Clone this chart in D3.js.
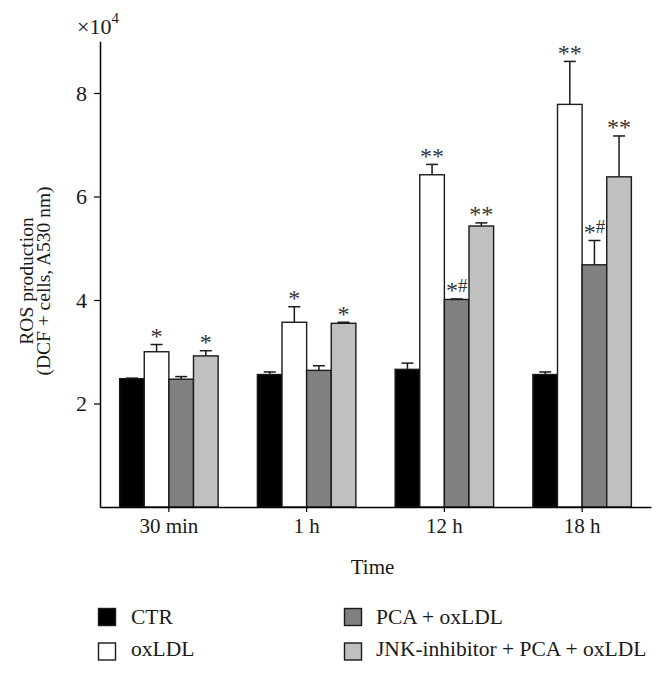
<!DOCTYPE html>
<html>
<head>
<meta charset="utf-8">
<script src="https://cdn.jsdelivr.net/npm/d3@7"></script>
<style>
  html, body { margin: 0; padding: 0; background: #fff; }
  svg { display: block; }
  text { font-family: "Liberation Serif", "DejaVu Serif", serif; }
</style>
</head>
<body>
<svg id="chart" width="664" height="674"></svg>
<script>
// ---- data (values in units of 10^4) ----
const categories = ["30 min", "1 h", "12 h", "18 h"];
const seriesNames = ["CTR", "oxLDL", "PCA + oxLDL", "JNK-inhibitor + PCA + oxLDL"];
const ctrValues   = [2.48, 2.56, 2.66, 2.56];
const ctrErrors   = [0.01, 0.05, 0.12, 0.05];
const oxValues    = [3.00, 3.57, 6.42, 7.78];
const oxErrors    = [0.14, 0.30, 0.20, 0.83];
const pcaValues   = [2.47, 2.64, 4.01, 4.68];
const pcaErrors   = [0.05, 0.09, 0.01, 0.47];
const jnkValues   = [2.92, 3.55, 5.43, 6.38];
const jnkErrors   = [0.10, 0.02, 0.06, 0.79];
const ctrMarks    = ["", "", "", ""];
const oxMarks     = ["*", "*", "**", "**"];
const pcaMarks    = ["", "", "*#", "*#"];
const jnkMarks    = ["*", "*", "**", "**"];
const yTicks      = [2, 4, 6, 8];
const seriesColors = ["#000000", "#ffffff", "#808080", "#c0c0c0"];

const seriesValues = [ctrValues, oxValues, pcaValues, jnkValues];
const seriesErrors = [ctrErrors, oxErrors, pcaErrors, jnkErrors];
const seriesMarks  = [ctrMarks, oxMarks, pcaMarks, jnkMarks];

const rows = [];
categories.forEach((c, ci) => {
  seriesNames.forEach((s, si) => {
    rows.push({cat: c, series: s, si, value: seriesValues[si][ci], err: seriesErrors[si][ci], mark: seriesMarks[si][ci]});
  });
});

const svg = d3.select("#chart");
const plotLeft = 100, plotRight = 651, plotTop = 41.25, plotBottom = 507;

const x0 = d3.scaleBand().domain(categories).range([plotLeft, plotRight]).paddingInner(0.285).paddingOuter(0.1425);
const x1 = d3.scaleBand().domain(seriesNames).range([0, x0.bandwidth()]);
const y = d3.scaleLinear().domain([0, 9]).range([plotBottom, plotTop]);
const color = d3.scaleOrdinal().domain(seriesNames).range(seriesColors);

const g = svg.append("g");

// bars
g.selectAll("rect.bar").data(rows).join("rect")
  .attr("class", "bar")
  .attr("x", d => x0(d.cat) + x1(d.series))
  .attr("width", x1.bandwidth())
  .attr("y", d => y(d.value))
  .attr("height", d => y(0) - y(d.value))
  .attr("fill", d => color(d.series))
  .attr("stroke", "#1a1a1a")
  .attr("stroke-width", 1.4);

// error bars
const cx = d => x0(d.cat) + x1(d.series) + x1.bandwidth() / 2;
g.selectAll("line.err").data(rows).join("line")
  .attr("class", "err")
  .attr("x1", cx).attr("x2", cx)
  .attr("y1", d => y(d.value)).attr("y2", d => y(d.value + d.err))
  .attr("stroke", "#1a1a1a").attr("stroke-width", 1.5);
g.selectAll("line.cap").data(rows).join("line")
  .attr("class", "cap")
  .attr("x1", d => cx(d) - 6).attr("x2", d => cx(d) + 6)
  .attr("y1", d => y(d.value + d.err)).attr("y2", d => y(d.value + d.err))
  .attr("stroke", "#1a1a1a").attr("stroke-width", 1.5);

// significance marks: large asterisks whose bottom sits on the baseline, "#" normal
const starShift = 6.3;
const marks = g.selectAll("text.mark").data(rows.filter(d => d.mark)).join("text")
  .attr("class", "mark")
  .attr("x", cx)
  .attr("y", d => y(d.value + d.err) - 7)
  .attr("text-anchor", "middle")
  .attr("fill", "#333");
marks.each(function(d) {
  const t = d3.select(this);
  let shifted = false;
  Array.from(d.mark).forEach(ch => {
    const ts = t.append("tspan").text(ch);
    if (ch === "*") {
      ts.attr("font-size", 24);
      if (!shifted) { ts.attr("dy", starShift); shifted = true; }
    } else {
      ts.attr("font-size", 19);
      if (shifted) { ts.attr("dy", -starShift); shifted = false; }
    }
  });
});

// x axis
const xAxis = svg.append("g")
  .attr("transform", `translate(0,${plotBottom})`)
  .call(d3.axisBottom(x0).tickSize(5).tickSizeOuter(0));
xAxis.select(".domain").attr("stroke", "#000").attr("stroke-width", 1.5);
xAxis.selectAll(".tick line").attr("stroke", "#000").attr("stroke-width", 1.2);
xAxis.selectAll(".tick text")
  .attr("font-family", "Liberation Serif, DejaVu Serif, serif")
  .attr("font-size", 21).attr("fill", "#1a1a1a")
  .attr("dy", null).attr("y", 25.7);

// y axis
const yAxis = svg.append("g")
  .attr("transform", `translate(${plotLeft},0)`)
  .call(d3.axisLeft(y).tickValues(yTicks).tickFormat(d3.format("d")).tickSize(6).tickSizeOuter(0).tickPadding(7));
yAxis.select(".domain").attr("stroke", "#000").attr("stroke-width", 1.5);
yAxis.selectAll(".tick line").attr("stroke", "#000").attr("stroke-width", 1.2);
yAxis.selectAll(".tick text")
  .attr("font-family", "Liberation Serif, DejaVu Serif, serif")
  .attr("font-size", 22).attr("fill", "#1a1a1a");

// exponent label
const expo = svg.append("text").attr("x", 77).attr("y", 34).attr("font-size", 22).attr("fill", "#1a1a1a");
expo.append("tspan").text("×10");
expo.append("tspan").attr("font-size", 15).attr("dy", -11).text("4");

// axis titles
svg.append("text").attr("x", 372.5).attr("y", 574).attr("text-anchor", "middle")
  .attr("font-size", 21).attr("fill", "#1a1a1a").text("Time");

const yl = svg.append("text").attr("transform", "translate(0,281) rotate(-90)")
  .attr("text-anchor", "middle").attr("font-size", 19.5).attr("fill", "#1a1a1a");
yl.append("tspan").attr("x", 0).attr("y", 33).text("ROS production");
yl.append("tspan").attr("x", 0).attr("y", 50).text("(DCF + cells, A530 nm)");

// legend
const legendPos = [
  {sx: 98.5, sy: 608.5, tx: 131, ty: 624},
  {sx: 98.5, sy: 643, tx: 131, ty: 656},
  {sx: 344.5, sy: 608.5, tx: 376, ty: 624},
  {sx: 344.5, sy: 643, tx: 376, ty: 656}
];
const lg = svg.append("g").selectAll("g").data(seriesNames).join("g");
lg.append("rect")
  .attr("x", (d, i) => legendPos[i].sx).attr("y", (d, i) => legendPos[i].sy)
  .attr("width", 17).attr("height", 17)
  .attr("fill", d => color(d)).attr("stroke", "#1a1a1a").attr("stroke-width", 1.4);
lg.append("text")
  .attr("x", (d, i) => legendPos[i].tx).attr("y", (d, i) => legendPos[i].ty)
  .attr("font-size", 21.5).attr("fill", "#1a1a1a").text(d => d);
</script>
</body>
</html>
